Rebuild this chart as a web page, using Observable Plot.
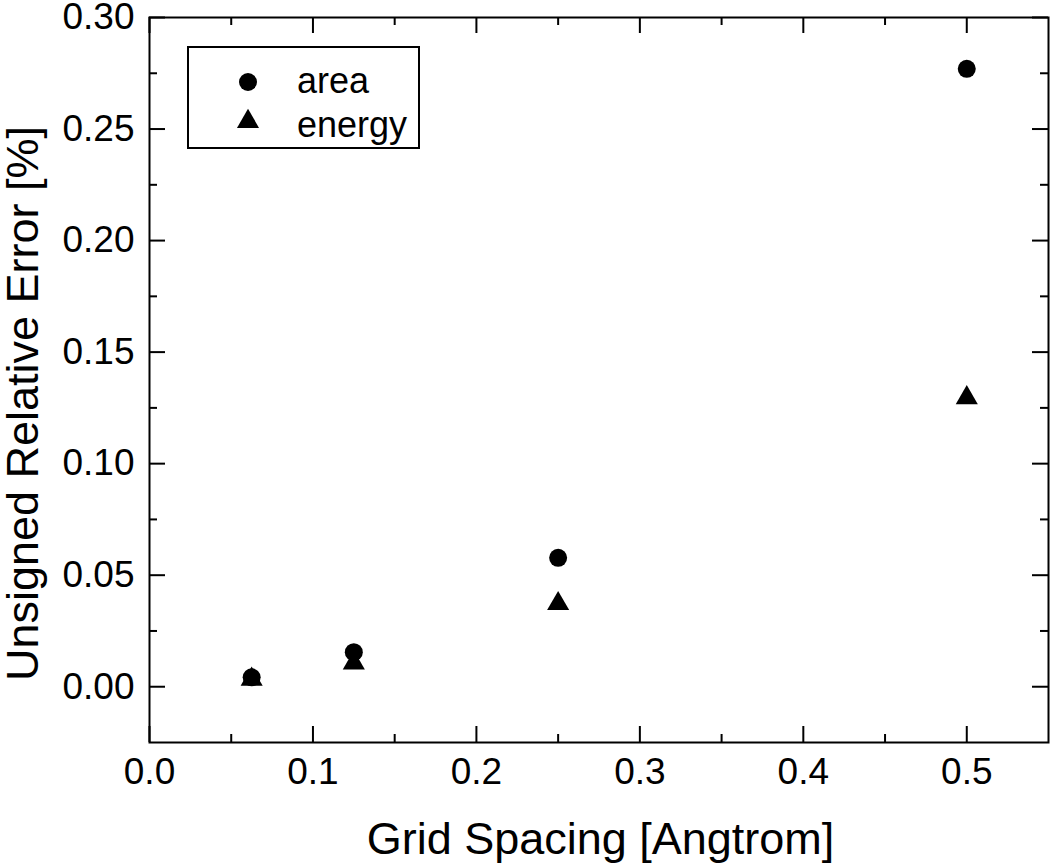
<!DOCTYPE html>
<html><head><meta charset="utf-8">
<script src="https://cdn.jsdelivr.net/npm/d3@7"></script>
<script src="https://cdn.jsdelivr.net/npm/@observablehq/plot@0.6"></script>
<style>
body{margin:0;background:#fff}
#chart svg{font-family:"Liberation Sans", Arial, Helvetica, sans-serif;display:block}
</style>
</head><body><div id="chart"></div>
<script>
// ---- data ----
const gridSpacing = [0.0625, 0.125, 0.25, 0.5];
const areaError = [0.0042, 0.0155, 0.0578, 0.277];
const energyError = [0.0033, 0.0106, 0.0372, 0.1295];
const seriesNames = ["area", "energy"];
const xMajorTicks = [0, 0.1, 0.2, 0.3, 0.4, 0.5];
const xMinorTicks = [0.05, 0.15, 0.25, 0.35, 0.45];
const xTickLabels = ["0.0", "0.1", "0.2", "0.3", "0.4", "0.5"];
const yMajorTicks = [0, 0.05, 0.10, 0.15, 0.20, 0.25, 0.30];
const yMinorTicks = [0.025, 0.075, 0.125, 0.175, 0.225, 0.275];
const yTickLabels = ["0.00", "0.05", "0.10", "0.15", "0.20", "0.25", "0.30"];
const xTitle = "Grid Spacing [Angtrom]";
const yTitle = "Unsigned Relative Error [%]";

// ---- layout ----
const W = 1050, H = 865;
const mL = 149, mR = 2, mT = 17, mB = 123;
const pw = W - mL - mR, ph = H - mT - mB;
const major = 16, minor = 8;

const areaData = gridSpacing.map((x, i) => ({x, y: areaError[i]}));
const energyData = gridSpacing.map((x, i) => ({x, y: energyError[i]}));

const chart = Plot.plot({
  width: W, height: H,
  marginLeft: mL, marginRight: mR, marginTop: mT, marginBottom: mB,
  style: {background: "#fff", color: "#000"},
  x: {domain: [0, 0.55]},
  y: {domain: [-0.025, 0.30]},
  marks: [
    Plot.frame({stroke: "#000", strokeWidth: 2}),
    Plot.ruleX(xMajorTicks, {x: d => d, insetTop: ph - major, stroke: "#000", strokeWidth: 2}),
    Plot.ruleX(xMinorTicks, {x: d => d, insetTop: ph - minor, stroke: "#000", strokeWidth: 2}),
    Plot.ruleX(xMajorTicks, {x: d => d, insetBottom: ph - major, stroke: "#000", strokeWidth: 2}),
    Plot.ruleX(xMinorTicks, {x: d => d, insetBottom: ph - minor, stroke: "#000", strokeWidth: 2}),
    Plot.ruleY(yMajorTicks, {y: d => d, insetRight: pw - major, stroke: "#000", strokeWidth: 2}),
    Plot.ruleY(yMinorTicks, {y: d => d, insetRight: pw - minor, stroke: "#000", strokeWidth: 2}),
    Plot.ruleY(yMajorTicks, {y: d => d, insetLeft: pw - major, stroke: "#000", strokeWidth: 2}),
    Plot.ruleY(yMinorTicks, {y: d => d, insetLeft: pw - minor, stroke: "#000", strokeWidth: 2}),
    Plot.axisX(xMajorTicks, {anchor: "bottom", tickSize: 0, tickPadding: 15, fontSize: 37, label: null,
      tickFormat: d => xTickLabels[xMajorTicks.indexOf(d)]}),
    Plot.axisY(yMajorTicks, {anchor: "left", tickSize: 0, tickPadding: 15, fontSize: 37, label: null,
      tickFormat: d => yTickLabels[yMajorTicks.indexOf(d)]}),
    Plot.text([xTitle], {frameAnchor: "bottom", lineAnchor: "middle", dx: 1.5, dy: 97, fontSize: 45, fill: "#000"}),
    Plot.dot(areaData, {x: "x", y: "y", r: 9, symbol: "circle", fill: "#000", stroke: null}),
    Plot.dot(energyData, {x: "x", y: "y", r: 8.2, symbol: "triangle", fill: "#000", stroke: null})
  ]
});

const svg = d3.select(chart);
// y-axis title
svg.append("text")
  .attr("transform", "translate(24,403.5) rotate(-90)")
  .attr("text-anchor", "middle").attr("dy", "0.32em")
  .attr("font-size", 45).attr("fill", "#000")
  .text(yTitle);

// legend box
const lg = svg.append("g").attr("text-anchor", "start");
lg.append("rect").attr("x", 188).attr("y", 47).attr("width", 231).attr("height", 101)
  .attr("fill", "#fff").attr("stroke", "#000").attr("stroke-width", 2);
lg.append("path").attr("d", d3.symbol(d3.symbolCircle, Math.PI * 81)()).attr("transform", "translate(248,82)").attr("fill", "#000");
lg.append("path").attr("d", d3.symbol(d3.symbolTriangle, Math.PI * 8.2 * 8.2)()).attr("transform", "translate(248,121.5)").attr("fill", "#000");
lg.append("text").attr("x", 297).attr("y", 93).attr("text-anchor", "start").attr("font-size", 36).attr("fill", "#000").text(seriesNames[0]);
lg.append("text").attr("x", 297).attr("y", 137).attr("text-anchor", "start").attr("font-size", 36).attr("fill", "#000").text(seriesNames[1]);

document.getElementById("chart").appendChild(chart);
</script>
</body></html>
